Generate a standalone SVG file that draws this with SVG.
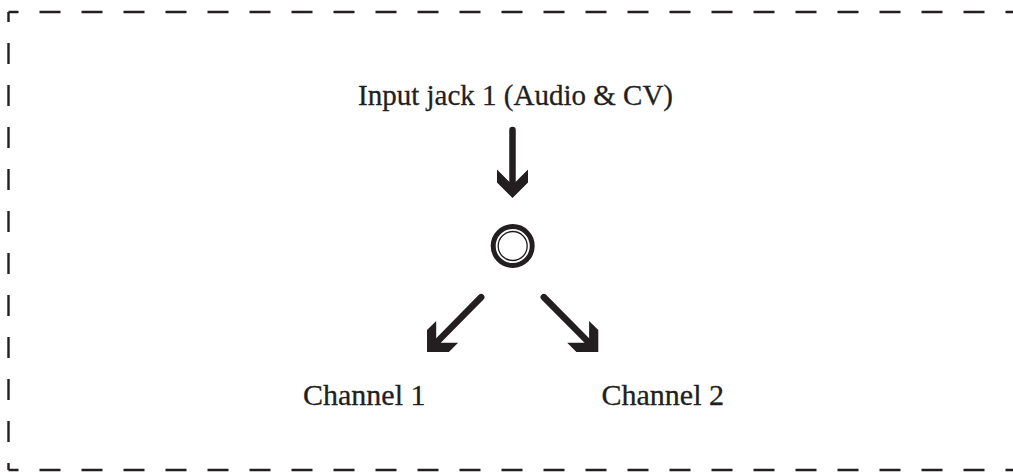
<svg xmlns="http://www.w3.org/2000/svg" xmlns:xlink="http://www.w3.org/1999/xlink" width="1013" height="472" viewBox="0 0 1013 472">
  <style>
    .border { fill: none; stroke: #231f20; stroke-width: 2.4; stroke-dasharray: 21 21; stroke-dashoffset: 11; }
    .shaft { fill: none; stroke: #231f20; stroke-width: 6.5; stroke-linecap: round; }
    .head { fill: #231f20; }
    .label { font-family: "Liberation Serif", "Times New Roman", serif; font-size: 30px; fill: #231f20; stroke: #231f20; stroke-width: 0.3; }
  </style>
  <defs>
    <path id="arrowhead" class="head" d="M-28.5,-15.5 L-15.5,-15.5 L0,0 L-15.5,15.5 L-28.5,15.5 L-13,0 Z"/>
  </defs>
  <rect width="1013" height="472" fill="#ffffff"/>
  <g id="frame">
    <path class="border" d="M8.5,12 H1040"/>
    <path class="border" d="M8.5,12 V470"/>
    <path class="border" d="M8.5,470 H1040"/>
  </g>
  <g id="input-label">
    <text class="label" x="358" y="105" textLength="315" lengthAdjust="spacingAndGlyphs">Input jack 1 (Audio &amp; CV)</text>
  </g>
  <g id="jack">
    <circle cx="512.7" cy="246" r="19.5" fill="#ffffff" stroke="#231f20" stroke-width="5"/>
    <circle cx="512.7" cy="246" r="14.5" fill="none" stroke="#231f20" stroke-width="1.3"/>
  </g>
  <g id="channel1">
    <text class="label" x="303" y="405">Channel 1</text>
  </g>
  <g id="channel2">
    <text class="label" x="601.5" y="405">Channel 2</text>
  </g>
  <g id="connectors">
    <g id="arrow-in">
      <line class="shaft" x1="512.5" y1="130" x2="512.5" y2="184"/>
      <use xlink:href="#arrowhead" href="#arrowhead" transform="translate(512.5,198) rotate(90)"/>
    </g>
    <g id="arrow-ch1">
      <line class="shaft" x1="481.2" y1="297.1" x2="437" y2="342"/>
      <use xlink:href="#arrowhead" href="#arrowhead" transform="translate(427,352) rotate(135)"/>
    </g>
    <g id="arrow-ch2">
      <line class="shaft" x1="543.8" y1="297.1" x2="588.3" y2="342"/>
      <use xlink:href="#arrowhead" href="#arrowhead" transform="translate(598.3,352) rotate(45)"/>
    </g>
  </g>
</svg>
